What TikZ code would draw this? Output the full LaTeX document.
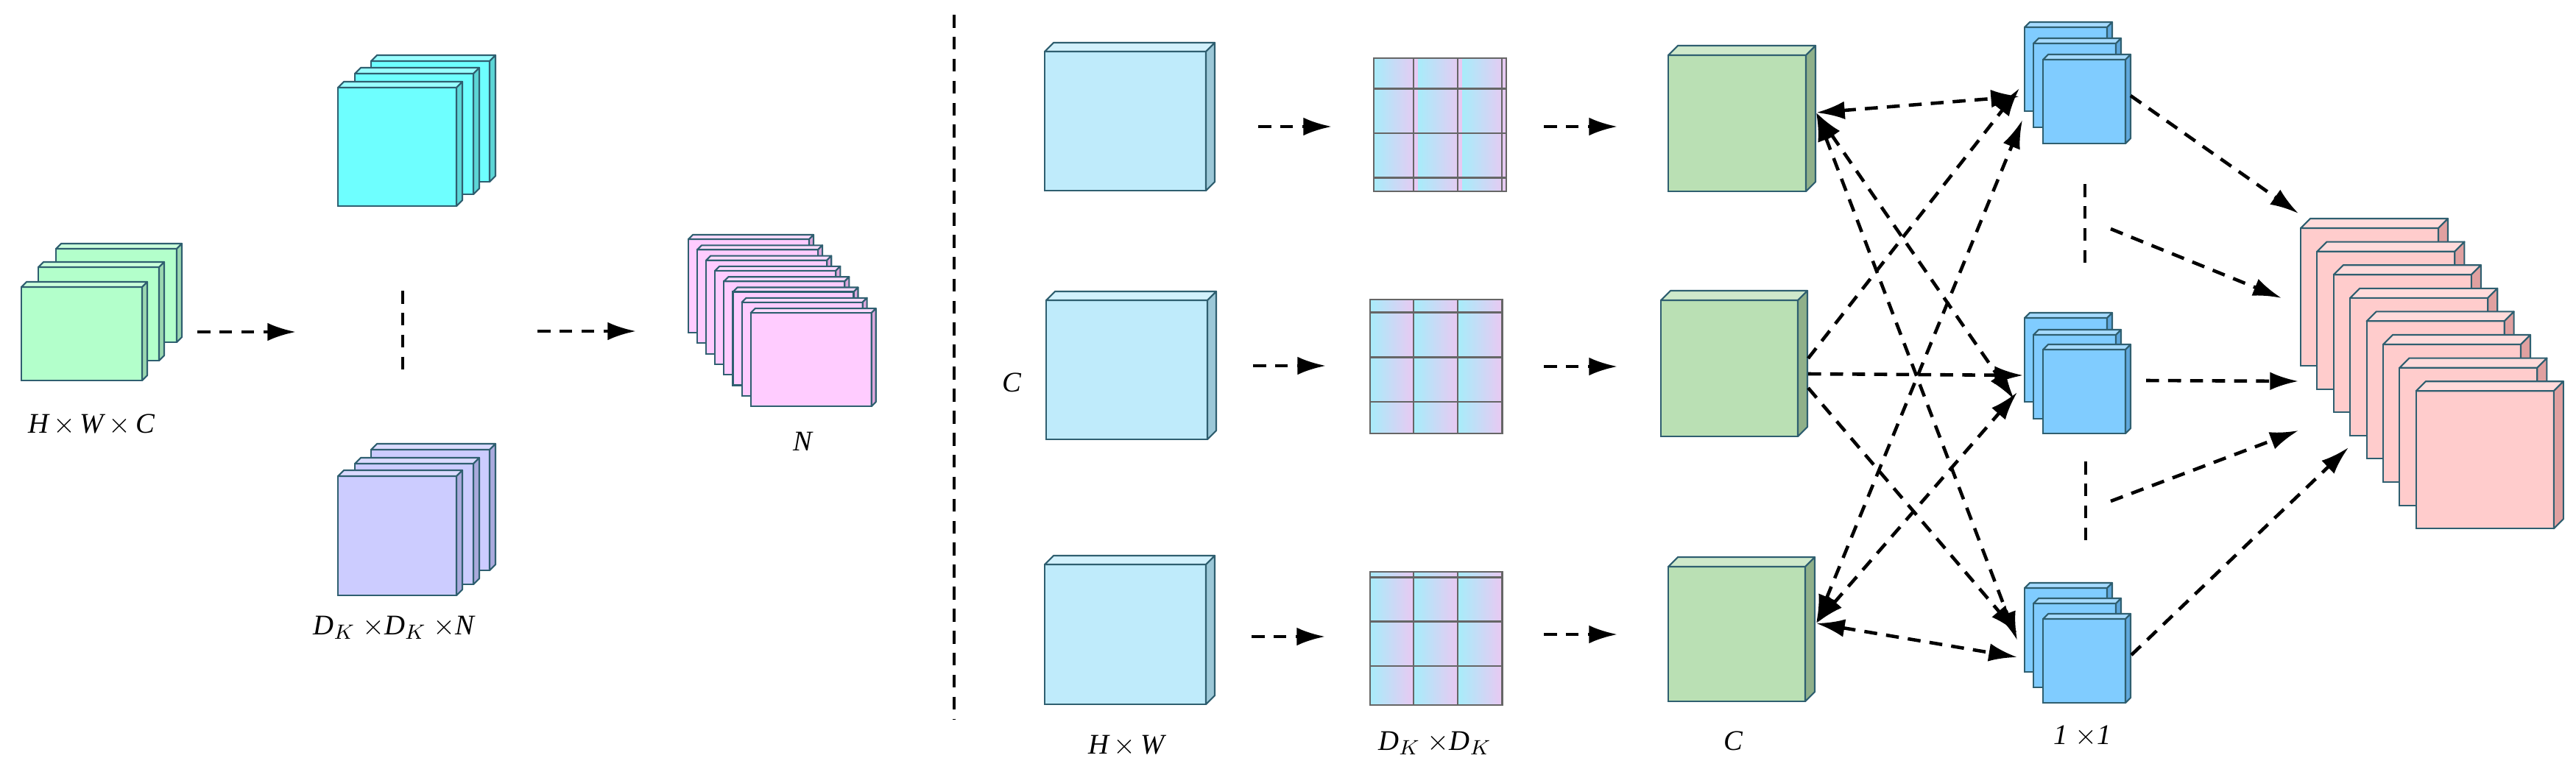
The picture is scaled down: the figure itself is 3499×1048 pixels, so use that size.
\documentclass[tikz,border=0pt]{standalone}
\usepackage{fontspec}
\setmainfont{Liberation Serif}
\usetikzlibrary{arrows.meta}
\newcommand\sheetbox[7]{% x y w h d fill side
  \fill[#6] (#1,#2) rectangle ++(#3,#4);
  \filldraw[fill=#6!70!white,draw=edge,line width=0.6pt,line join=round] (#1,#2) -- ++(#5,-#5) -- ++(#3,0) -- ++(-#5,#5) -- cycle;
  \filldraw[fill=#7,draw=edge,line width=0.6pt,line join=round] (#1+#3,#2) -- ++(#5,-#5) -- ++(0,#4) -- ++(-#5,#5) -- cycle;
  \draw[edge,line width=0.6pt] (#1,#2) rectangle ++(#3,#4);}
\newcommand\gridbox[4]{% x y w h
  \foreach \i in {0,1,2}{\foreach \j in {0,1,2}{
    \shade[shading=axis,shading angle=45,left color=gcyan,right color=gpink] (#1+\i*#3/3,#2+\j*#4/3) rectangle ++(#3/3,#4/3);}}
  \draw[gray!80!black,line width=0.8pt] (#1,#2) grid[xstep=#3/3,ystep=-#4/3] ++(#3,#4);
  \draw[gray!80!black,line width=0.8pt] (#1,#2) rectangle ++(#3,#4);}
\definecolor{edge}{HTML}{2F5F70}
\definecolor{cgreen}{HTML}{B3FFCB}\definecolor{cgreenS}{HTML}{9AD8B0}
\definecolor{ccyan}{HTML}{6EFFFF}\definecolor{ccyanS}{HTML}{5CD6D6}
\definecolor{cpurp}{HTML}{CCCCFF}\definecolor{cpurpS}{HTML}{AAAADD}
\definecolor{cpinkL}{HTML}{FFCCFF}\definecolor{cpinkLS}{HTML}{DDA8DD}
\definecolor{cblue}{HTML}{BFEBFB}\definecolor{cblueS}{HTML}{9CC8D8}
\definecolor{cgC}{HTML}{BAE0B4}\definecolor{cgCS}{HTML}{8FB08A}
\definecolor{csb}{HTML}{80CCFF}\definecolor{csbS}{HTML}{60A8DD}
\definecolor{cpk}{HTML}{FFCCCC}\definecolor{cpkS}{HTML}{E0A0A0}
\definecolor{gcyan}{HTML}{A8ECFA}\definecolor{gpink}{HTML}{EAC8F2}
\tikzset{arr/.style={-{Latex[length=11pt,width=7pt]},dashed,line width=1.3pt,dash pattern=on 5pt off 3.5pt},
  arr2/.style={{Latex[length=11pt,width=7pt]}-{Latex[length=11pt,width=7pt]},dashed,line width=1.3pt,dash pattern=on 5pt off 3.5pt},
  vd/.style={dashed,line width=1.3pt,dash pattern=on 5pt off 3.5pt},
  lbl/.style={font=\fontsize{11}{13}\selectfont\itshape}}
\begin{document}
\begin{tikzpicture}[x=0.01cm,y=-0.01cm]
\useasboundingbox (0,0) rectangle (3499,1048);
% left part
\sheetbox{76}{338}{164}{127}{7}{cgreen}{cgreenS}
\sheetbox{52}{363}{164}{127}{7}{cgreen}{cgreenS}
\sheetbox{29}{390}{164}{127}{7}{cgreen}{cgreenS}
\sheetbox{504}{83}{161}{164}{8}{ccyan}{ccyanS}
\sheetbox{482}{100}{161}{164}{8}{ccyan}{ccyanS}
\sheetbox{459}{119}{161}{161}{8}{ccyan}{ccyanS}
\sheetbox{504}{611}{161}{164}{8}{cpurp}{cpurpS}
\sheetbox{482}{630}{161}{164}{8}{cpurp}{cpurpS}
\sheetbox{459}{647}{161}{162}{8}{cpurp}{cpurpS}
\foreach \i in {0,...,7}{\sheetbox{935+12.1*\i}{325+14.3*\i}{164}{127}{6}{cpinkL}{cpinkLS}}
\node[lbl] (l1) at (124,577) {H\,$\times$\,W\,$\times$\,C};
\node[lbl] (l2) at (535,853) {D$_K$ $\times$D$_K$ $\times$N};
\node[lbl] (l3) at (1090,600) {N};
\coordinate (a1s) at (268,451); \coordinate (a1e) at (402,451);
\coordinate (a2s) at (730,450); \coordinate (a2e) at (864,450);
\draw[arr] (a1s) -- (a1e); \draw[arr] (a2s) -- (a2e);
\coordinate (v1a) at (547,395); \coordinate (v1b) at (547,505);
\draw[vd] (v1a) -- (v1b);
\coordinate (div1) at (1296,20); \coordinate (div2) at (1296,977);
\draw[vd] (div1) -- (div2);
% right part
\sheetbox{1419}{70}{219}{189}{12}{cblue}{cblueS}
\sheetbox{1421}{408}{219}{189}{12}{cblue}{cblueS}
\sheetbox{1419}{767}{219}{190}{12}{cblue}{cblueS}
\gridbox{1866}{79}{180}{181}
\gridbox{1861}{407}{180}{182}
\gridbox{1861}{777}{180}{181}
\sheetbox{2266}{75}{187}{185}{13}{cgC}{cgCS}
\sheetbox{2256}{408}{186}{185}{13}{cgC}{cgCS}
\sheetbox{2266}{770}{186}{183}{13}{cgC}{cgCS}
\foreach \t/\u/\v in {37/59/81, 432/455/475, 799/820/841}{
  \sheetbox{2750}{\t}{112}{114}{7}{csb}{csbS}
  \sheetbox{2762}{\u}{112}{114}{7}{csb}{csbS}
  \sheetbox{2775}{\v}{112}{114}{7}{csb}{csbS}}
\foreach \i in {0,...,7}{\sheetbox{3125+22.4*\i}{310+31.6*\i}{187}{187}{13}{cpk}{cpkS}}
\node[lbl] (c1) at (1374,520) {C};
\node[lbl] (hw) at (1530,1013) {H\,$\times$\,W};
\node[lbl] (dk) at (1949,1010) {D$_K$ $\times$D$_K$};
\node[lbl] (c2) at (2354,1007) {C};
\node[lbl] (oo) at (2829,1000) {1 $\times$1};
% row arrows
\foreach \ya/\yb/\xa/\xb/\xc/\xd in {172/172/1709/1809/2097/2197, 497/498/1702/1801/2097/2197, 865/862/1700/1800/2097/2197}{
  \draw[arr] (\xa,\ya) -- (\xb,\ya); \draw[arr] (\xc,\yb) -- (\xd,\yb);}
% green to small blue
\coordinate (gt) at (2467,153); \coordinate (gb) at (2467,847);
\coordinate (gm1) at (2456,487); \coordinate (gm2) at (2456,508); \coordinate (gm3) at (2456,527);
\coordinate (bt1) at (2743,131); \coordinate (bt2) at (2743,120); \coordinate (bt3) at (2747,163);
\coordinate (bm1) at (2736,543); \coordinate (bm2) at (2748,510); \coordinate (bm3) at (2740,533);
\coordinate (bb1) at (2740,870); \coordinate (bb2) at (2740,860); \coordinate (bb3) at (2740,893);
\draw[arr2] (gt) -- (bt1); \draw[arr2] (gt) -- (bm1); \draw[arr2] (gt) -- (bb1);
\draw[arr] (gm1) -- (bt2); \draw[arr] (gm2) -- (bm2); \draw[arr] (gm3) -- (bb2);
\draw[arr2] (gb) -- (bt3); \draw[arr2] (gb) -- (bm3); \draw[arr2] (gb) -- (bb3);
% dashes between small stacks
\coordinate (d1a) at (2832,250); \coordinate (d1b) at (2832,360);
\coordinate (d2a) at (2833,627); \coordinate (d2b) at (2833,737);
\draw[vd] (d1a) -- (d1b); \draw[vd] (d2a) -- (d2b);
% to pink
\coordinate (p1s) at (2894,130); \coordinate (p1e) at (3122,290);
\coordinate (p2s) at (2867,311); \coordinate (p2e) at (3099,405);
\coordinate (p3s) at (2915,517); \coordinate (p3e) at (3122,518);
\coordinate (p4s) at (2867,681); \coordinate (p4e) at (3122,585);
\coordinate (p5s) at (2895,890); \coordinate (p5e) at (3190,608);
\foreach \k in {1,...,5}{\draw[arr] (p\k s) -- (p\k e);}
\end{tikzpicture}
\end{document}
